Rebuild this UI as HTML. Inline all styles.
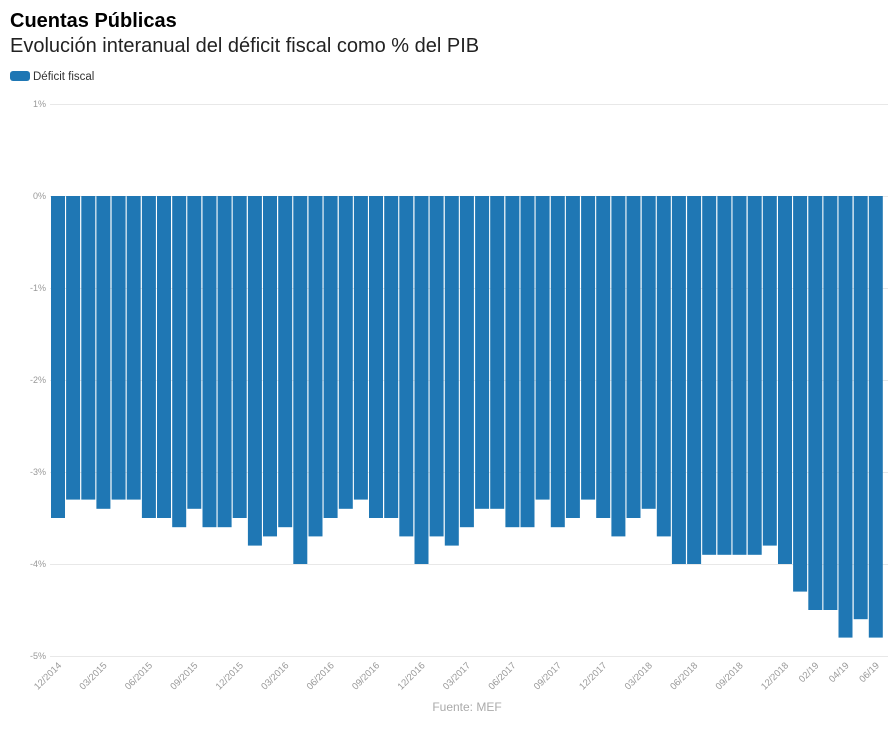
<!DOCTYPE html>
<html><head><meta charset="utf-8"><style>
body{margin:0;background:#fff;width:896px;height:734px;overflow:hidden;font-family:"Liberation Sans",Arial,sans-serif}
</style></head><body>
<svg width="896" height="734" xmlns="http://www.w3.org/2000/svg" font-family="Liberation Sans, Arial, sans-serif">
<text x="10" y="27" font-size="20" font-weight="bold" fill="#000">Cuentas Públicas</text>
<text x="10" y="52" font-size="20" fill="#222">Evolución interanual del déficit fiscal como % del PIB</text>
<rect x="10" y="71" width="20" height="10" rx="3" fill="#1f77b4"/>
<text x="33" y="80" font-size="11.5" fill="#333">Déficit fiscal</text>
<g stroke="#e8e8e8" stroke-width="1">
<line x1="50" y1="104.5" x2="888" y2="104.5"/>
<line x1="50" y1="196.5" x2="888" y2="196.5"/>
<line x1="50" y1="288.5" x2="888" y2="288.5"/>
<line x1="50" y1="380.5" x2="888" y2="380.5"/>
<line x1="50" y1="472.5" x2="888" y2="472.5"/>
<line x1="50" y1="564.5" x2="888" y2="564.5"/>
<line x1="50" y1="656.5" x2="888" y2="656.5"/>
</g>
<g font-size="9" fill="#999" text-anchor="end">
<text x="46" y="107">1%</text><text x="46" y="199">0%</text><text x="46" y="291">-1%</text>
<text x="46" y="383">-2%</text><text x="46" y="475">-3%</text><text x="46" y="567">-4%</text><text x="46" y="659">-5%</text>
</g>
<g fill="#1f77b4">
<rect x="51.0" y="196" width="14" height="322"/>
<rect x="66.1" y="196" width="14" height="303.6"/>
<rect x="81.3" y="196" width="14" height="303.6"/>
<rect x="96.4" y="196" width="14" height="312.8"/>
<rect x="111.6" y="196" width="14" height="303.6"/>
<rect x="126.7" y="196" width="14" height="303.6"/>
<rect x="141.9" y="196" width="14" height="322"/>
<rect x="157.0" y="196" width="14" height="322"/>
<rect x="172.2" y="196" width="14" height="331.2"/>
<rect x="187.3" y="196" width="14" height="312.8"/>
<rect x="202.5" y="196" width="14" height="331.2"/>
<rect x="217.6" y="196" width="14" height="331.2"/>
<rect x="232.7" y="196" width="14" height="322"/>
<rect x="247.9" y="196" width="14" height="349.6"/>
<rect x="263.0" y="196" width="14" height="340.4"/>
<rect x="278.2" y="196" width="14" height="331.2"/>
<rect x="293.3" y="196" width="14" height="368"/>
<rect x="308.5" y="196" width="14" height="340.4"/>
<rect x="323.6" y="196" width="14" height="322"/>
<rect x="338.8" y="196" width="14" height="312.8"/>
<rect x="353.9" y="196" width="14" height="303.6"/>
<rect x="369.0" y="196" width="14" height="322"/>
<rect x="384.2" y="196" width="14" height="322"/>
<rect x="399.3" y="196" width="14" height="340.4"/>
<rect x="414.5" y="196" width="14" height="368"/>
<rect x="429.6" y="196" width="14" height="340.4"/>
<rect x="444.8" y="196" width="14" height="349.6"/>
<rect x="459.9" y="196" width="14" height="331.2"/>
<rect x="475.1" y="196" width="14" height="312.8"/>
<rect x="490.2" y="196" width="14" height="312.8"/>
<rect x="505.4" y="196" width="14" height="331.2"/>
<rect x="520.5" y="196" width="14" height="331.2"/>
<rect x="535.6" y="196" width="14" height="303.6"/>
<rect x="550.8" y="196" width="14" height="331.2"/>
<rect x="565.9" y="196" width="14" height="322"/>
<rect x="581.1" y="196" width="14" height="303.6"/>
<rect x="596.2" y="196" width="14" height="322"/>
<rect x="611.4" y="196" width="14" height="340.4"/>
<rect x="626.5" y="196" width="14" height="322"/>
<rect x="641.7" y="196" width="14" height="312.8"/>
<rect x="656.8" y="196" width="14" height="340.4"/>
<rect x="671.9" y="196" width="14" height="368"/>
<rect x="687.1" y="196" width="14" height="368"/>
<rect x="702.2" y="196" width="14" height="358.8"/>
<rect x="717.4" y="196" width="14" height="358.8"/>
<rect x="732.5" y="196" width="14" height="358.8"/>
<rect x="747.7" y="196" width="14" height="358.8"/>
<rect x="762.8" y="196" width="14" height="349.6"/>
<rect x="778.0" y="196" width="14" height="368"/>
<rect x="793.1" y="196" width="14" height="395.6"/>
<rect x="808.3" y="196" width="14" height="414"/>
<rect x="823.4" y="196" width="14" height="414"/>
<rect x="838.5" y="196" width="14" height="441.6"/>
<rect x="853.7" y="196" width="14" height="423.2"/>
<rect x="868.8" y="196" width="14" height="441.6"/>
</g>
<g font-size="9.5" fill="#999" text-anchor="end">
<text transform="translate(62,666) rotate(-45)">12/2014</text>
<text transform="translate(107.4,666) rotate(-45)">03/2015</text>
<text transform="translate(152.9,666) rotate(-45)">06/2015</text>
<text transform="translate(198.3,666) rotate(-45)">09/2015</text>
<text transform="translate(243.7,666) rotate(-45)">12/2015</text>
<text transform="translate(289.2,666) rotate(-45)">03/2016</text>
<text transform="translate(334.6,666) rotate(-45)">06/2016</text>
<text transform="translate(380,666) rotate(-45)">09/2016</text>
<text transform="translate(425.5,666) rotate(-45)">12/2016</text>
<text transform="translate(470.9,666) rotate(-45)">03/2017</text>
<text transform="translate(516.4,666) rotate(-45)">06/2017</text>
<text transform="translate(561.8,666) rotate(-45)">09/2017</text>
<text transform="translate(607.2,666) rotate(-45)">12/2017</text>
<text transform="translate(652.7,666) rotate(-45)">03/2018</text>
<text transform="translate(698.1,666) rotate(-45)">06/2018</text>
<text transform="translate(743.5,666) rotate(-45)">09/2018</text>
<text transform="translate(789,666) rotate(-45)">12/2018</text>
<text transform="translate(819.3,666) rotate(-45)">02/19</text>
<text transform="translate(849.5,666) rotate(-45)">04/19</text>
<text transform="translate(879.8,666) rotate(-45)">06/19</text>
</g>
<text x="467" y="711" font-size="12" fill="#aaa" text-anchor="middle">Fuente: MEF</text>
</svg>
</body></html>
